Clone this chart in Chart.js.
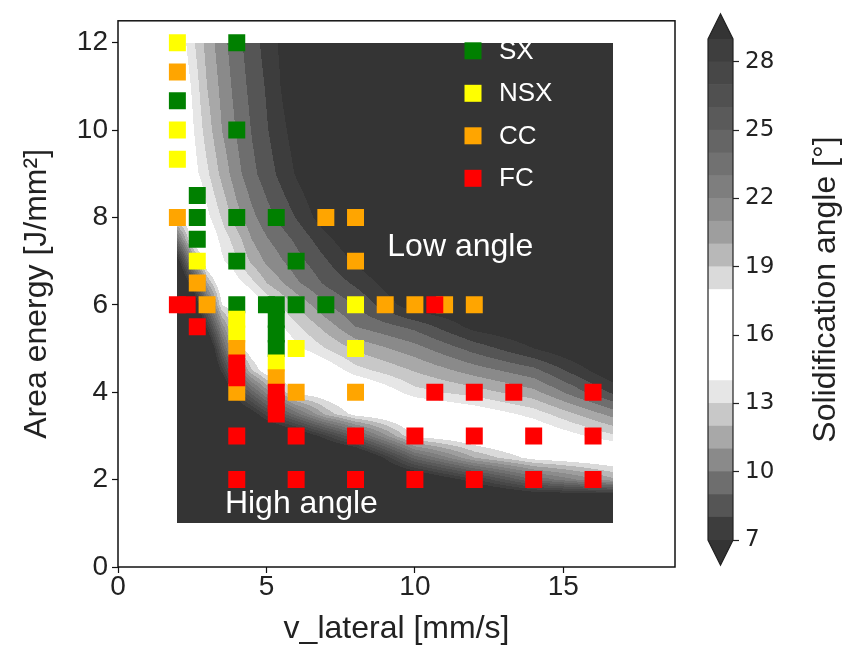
<!DOCTYPE html>
<html>
<head>
<meta charset="utf-8">
<script src="https://cdn.jsdelivr.net/npm/chart.js@4.4.1/dist/chart.umd.min.js"></script>
<style>
  html, body { margin: 0; padding: 0; background: #fff; }
  #wrap { position: relative; width: 842px; height: 645px; }
  #mainChart { position: absolute; left: 0; top: 0; }
  #cbarChart { position: absolute; left: 680px; top: 0; }
</style>
</head>
<body>
<div id="wrap">
  <canvas id="mainChart" width="842" height="645"></canvas>
  <canvas id="cbarChart" width="162" height="645"></canvas>
</div>
<script>
// simulated solidification angle [deg] on a v_lateral x area energy grid
const gridV = [2, 2.5, 3, 3.5, 4, 4.5, 5, 6, 7, 8, 10, 12, 14, 16.67];
const gridE = [1, 1.5, 2, 2.5, 3, 3.5, 4, 4.5, 5, 5.5, 6, 6.5, 7, 7.5, 8, 9, 10, 11, 12];
const angleGrid = [
  [34, 34, 34, 34, 34, 34, 34, 34, 34, 34, 34, 34, 34, 34],
  [34, 34, 34, 34, 34, 34, 34, 34, 34, 34, 34, 34, 33, 34],
  [34, 34, 34, 34, 34, 34, 34, 34, 34, 34, 32, 28.2, 24, 20.3],
  [34, 34, 34, 34, 34, 34, 34, 34, 34, 33, 24.6, 20, 17.5, 16.5],
  [34, 34, 34, 34, 34, 33, 33, 31.4, 28.2, 24.8, 17.7, 16.5, 15.5, 13.2],
  [34, 34, 34, 34, 32, 30.1, 27.6, 23.5, 19.7, 17.5, 16, 15, 13.6, 10.6],
  [34, 34, 34, 33, 27.6, 24.6, 21.6, 17.5, 17, 16, 13.4, 12.5, 11.3, 7.8],
  [34, 34, 34, 28.6, 23, 19.1, 17, 16.5, 15, 13.4, 11.9, 10.5, 9.3, 6],
  [34, 34, 33, 25.1, 18.5, 17, 16, 14.3, 13, 11.8, 10.4, 8.6, 7, 5],
  [34, 34, 28.6, 21.6, 17.5, 16.5, 15, 13.25, 11.6, 10, 8.7, 6.6, 5.8, 4.5],
  [34, 33, 24.3, 18, 17, 15.5, 14, 11.9, 10.1, 8.9, 6.2, 5.8, 5, 4.5],
  [34, 27.8, 20.1, 16.5, 14.5, 13.3, 12, 10.2, 8.8, 7.8, 5.5, 5.2, 4.5, 4.5],
  [30.4, 21.7, 16.5, 14.2, 13.05, 11.8, 10.8, 9.4, 8.1, 6.8, 5, 4.5, 4.5, 4.5],
  [23.5, 17.2, 15.3, 13.6, 12.5, 11, 10.1, 8.8, 7.3, 6, 4.8, 4.5, 4.5, 4.5],
  [17.5, 16.5, 14.3, 12.9, 11.4, 10.3, 9.4, 7.95, 6.3, 5.3, 4.5, 4.5, 4.5, 4.5],
  [16.5, 14.6, 13.2, 11.7, 10.35, 9.3, 8.5, 6.9, 5.5, 4.8, 4.5, 4.5, 4.5, 4.5],
  [16, 14.2, 12.5, 11, 9.9, 8.95, 8.1, 6.5, 5.2, 4.5, 4.5, 4.5, 4.5, 4.5],
  [15.5, 13.85, 12, 10.7, 9.6, 8.7, 7.9, 6, 5, 4.5, 4.5, 4.5, 4.5, 4.5],
  [15, 13.3, 11.6, 10.4, 9.3, 8.5, 7.6, 6, 5, 4.5, 4.5, 4.5, 4.5, 4.5]
];

// contour levels and their fill colours
const levels = [7, 8, 9, 10, 11, 12, 13, 14, 15, 16, 17, 18, 19, 20, 21, 22, 23, 24, 25, 26, 27, 28, 29];
const bandColors = [
  '#3d3d3d', '#555555', '#6e6e6e', '#8a8a8a', '#a8a8a8', '#c8c8c8', '#e6e6e6',
  '#ffffff', '#ffffff', '#ffffff', '#ffffff',
  '#dadada', '#b8b8b8', '#9e9e9e', '#8c8c8c', '#7e7e7e', '#717171', '#656565',
  '#5a5a5a', '#505050', '#474747', '#3e3e3e'
];
const underColor = '#343434';
const overColor = '#343434';

// experiments: [v_lateral, area energy]
const sxPoints = [[2, 10.67], [2.67, 8.5], [2.67, 8], [2.67, 7.5], [4, 12], [4, 10], [4, 8], [4, 7], [4, 6],
  [5.33, 8], [5, 6], [5.33, 6], [5.33, 5.67], [5.33, 5.33], [5.33, 5], [6, 7], [6, 6], [7, 6]];
const nsxPoints = [[2, 12], [2, 10], [2, 9.33], [2.67, 7], [4, 5.67], [4, 5.33], [5.33, 4.67], [6, 5], [8, 6], [8, 5]];
const ccPoints = [[2, 11.33], [2, 8], [2.67, 6.5], [3, 6], [4, 5], [4, 4], [5.33, 4.33], [6, 4], [7, 8], [8, 8],
  [8, 7], [8, 4], [9, 6], [10, 6], [11, 6], [12, 6]];
const fcPoints = [[2, 6], [2.33, 6], [2.67, 5.5], [4, 4.67], [4, 4.33], [4, 3], [4, 2], [5.33, 4], [5.33, 3.75],
  [5.33, 3.5], [6, 3], [6, 2], [8, 3], [8, 2], [10, 3], [10, 2], [10.67, 6], [10.67, 4], [12, 4], [12, 3], [12, 2],
  [13.33, 4], [14, 3], [14, 2], [16, 4], [16, 3], [16, 2]];

const xTicks = [0, 5, 10, 15];
const yTicks = [0, 2, 4, 6, 8, 10, 12];
const cbarTicks = [7, 10, 13, 16, 19, 22, 25, 28];

Chart.defaults.font.family = '"Liberation Sans", Arial, sans-serif';
Chart.defaults.color = '#222';

function hexToRgb(h) {
  const n = parseInt(h.slice(1), 16);
  return [(n >> 16) & 255, (n >> 8) & 255, n & 255];
}
const bandRgb = bandColors.map(hexToRgb);
const underRgb = hexToRgb(underColor);
const overRgb = hexToRgb(overColor);

function findCell(arr, val) {
  let i = 0;
  while (i < arr.length - 2 && val > arr[i + 1]) i++;
  return i;
}

function angleAt(v, e) {
  const i = findCell(gridV, v);
  const j = findCell(gridE, e);
  const tx = Math.min(1, Math.max(0, (v - gridV[i]) / (gridV[i + 1] - gridV[i])));
  const ty = Math.min(1, Math.max(0, (e - gridE[j]) / (gridE[j + 1] - gridE[j])));
  const a = angleGrid[j][i], b = angleGrid[j][i + 1];
  const c = angleGrid[j + 1][i], d = angleGrid[j + 1][i + 1];
  return a * (1 - tx) * (1 - ty) + b * tx * (1 - ty) + c * (1 - tx) * ty + d * tx * ty;
}

function colorFor(val) {
  if (val < levels[0]) return underRgb;
  if (val >= levels[levels.length - 1]) return overRgb;
  let k = 0;
  while (val >= levels[k + 1]) k++;
  return bandRgb[k];
}

// filled contours, rasterised through the chart scales
const contourFill = {
  id: 'contourFill',
  beforeDatasetsDraw(chart) {
    const {ctx, scales: {x, y}} = chart;
    const x0 = Math.round(x.getPixelForValue(gridV[0]));
    const x1 = Math.round(x.getPixelForValue(gridV[gridV.length - 1]));
    const y0 = Math.round(y.getPixelForValue(gridE[gridE.length - 1]));
    const y1 = Math.round(y.getPixelForValue(gridE[0]));
    const w = x1 - x0, h = y1 - y0;
    const off = document.createElement('canvas');
    off.width = w; off.height = h;
    const octx = off.getContext('2d');
    const img = octx.createImageData(w, h);
    for (let j = 0; j < h; j++) {
      const e = y.getValueForPixel(y0 + j + 0.5);
      for (let i = 0; i < w; i++) {
        const v = x.getValueForPixel(x0 + i + 0.5);
        const c = colorFor(angleAt(v, e));
        const p = (j * w + i) * 4;
        img.data[p] = c[0]; img.data[p + 1] = c[1]; img.data[p + 2] = c[2]; img.data[p + 3] = 255;
      }
    }
    octx.putImageData(img, 0, 0);
    ctx.drawImage(off, x0, y0);
  }
};

// frame, region labels and legend on top of the markers
const overlay = {
  id: 'overlay',
  afterDatasetsDraw(chart) {
    const {ctx, chartArea: ca, scales: {x, y}} = chart;
    ctx.save();
    ctx.fillStyle = '#fff';
    ctx.font = '32px "Liberation Sans"';
    ctx.textBaseline = 'middle';
    ctx.textAlign = 'left';
    ctx.fillText('Low angle', x.getPixelForValue(9.07), y.getPixelForValue(7.32));
    ctx.fillText('High angle', x.getPixelForValue(3.6), y.getPixelForValue(1.44));

    const lx = ca.left + 355, ly = ca.top + 30, step = 42.5;
    ctx.font = '26px "Liberation Sans"';
    chart.data.datasets.forEach((ds, i) => {
      const cy = ly + i * step;
      ctx.fillStyle = ds.backgroundColor;
      ctx.fillRect(lx - 8.5, cy - 8.5, 17, 17);
      ctx.fillStyle = '#fff';
      ctx.fillText(ds.label, lx + 26, cy + 1);
    });

    ctx.strokeStyle = '#111';
    ctx.lineWidth = 1.5;
    ctx.strokeRect(ca.left, ca.top, ca.right - ca.left, ca.bottom - ca.top);
    ctx.restore();
  }
};

function series(label, pts, color, order) {
  return {
    label,
    data: pts.map(p => ({x: p[0], y: p[1]})),
    backgroundColor: color,
    borderWidth: 0,
    pointStyle: 'rect',
    pointRadius: 12,
    pointHoverRadius: 12,
    order
  };
}

new Chart(document.getElementById('mainChart'), {
  type: 'scatter',
  data: {
    datasets: [
      series('SX', sxPoints, '#008000', 4),
      series('NSX', nsxPoints, '#ffff00', 3),
      series('CC', ccPoints, '#ffa500', 2),
      series('FC', fcPoints, '#ff0000', 1)
    ]
  },
  options: {
    responsive: false,
    animation: false,
    events: [],
    layout: { padding: { top: 15, right: 167, left: 0, bottom: 0 } },
    plugins: { legend: { display: false }, tooltip: { enabled: false } },
    scales: {
      x: {
        type: 'linear', min: 0, max: 18.76,
        afterBuildTicks: s => { s.ticks = xTicks.map(value => ({value})); },
        afterFit: s => { s.height = 78; },
        grid: { display: true, drawOnChartArea: false, tickLength: 6, tickColor: '#111', tickWidth: 1.2 },
        border: { display: false },
        ticks: { font: { size: 28 }, color: '#222', padding: -3, maxRotation: 0 },
        title: { display: true, text: 'v_lateral [mm/s]', font: { size: 32, lineHeight: 1 }, color: '#222', padding: { top: 0, bottom: 0 } }
      },
      y: {
        type: 'linear', min: 0, max: 12.5,
        afterBuildTicks: s => { s.ticks = yTicks.map(value => ({value})); },
        afterFit: s => { s.width = 118; },
        grid: { display: true, drawOnChartArea: false, tickLength: 6, tickColor: '#111', tickWidth: 1.2 },
        border: { display: false },
        ticks: { font: { size: 28 }, color: '#222', padding: 4 },
        title: { display: true, text: 'Area energy [J/mm²]', font: { size: 32, lineHeight: 1 }, color: '#222', padding: { top: 21, bottom: 0 } }
      }
    }
  },
  plugins: [contourFill, overlay]
});

// colour bar with extension triangles and rotated label
const cbarFrame = {
  id: 'cbarFrame',
  afterDatasetsDraw(chart) {
    const {ctx, chartArea: {left, right}, scales: {y}} = chart;
    const top = y.getPixelForValue(levels[levels.length - 1]);
    const bot = y.getPixelForValue(levels[0]);
    const ext = 0.05 * (bot - top);
    const mid = (left + right) / 2;
    ctx.save();
    ctx.fillStyle = overColor;
    ctx.beginPath(); ctx.moveTo(left, top); ctx.lineTo(mid, top - ext); ctx.lineTo(right, top); ctx.closePath(); ctx.fill();
    ctx.fillStyle = underColor;
    ctx.beginPath(); ctx.moveTo(left, bot); ctx.lineTo(mid, bot + ext); ctx.lineTo(right, bot); ctx.closePath(); ctx.fill();
    ctx.beginPath();
    ctx.moveTo(left, top); ctx.lineTo(mid, top - ext); ctx.lineTo(right, top);
    ctx.lineTo(right, bot); ctx.lineTo(mid, bot + ext); ctx.lineTo(left, bot);
    ctx.closePath();
    ctx.strokeStyle = '#222';
    ctx.lineWidth = 1.2;
    ctx.stroke();

    ctx.translate(right + 93, (top + bot) / 2);
    ctx.rotate(-Math.PI / 2);
    ctx.fillStyle = '#222';
    ctx.font = '32px "Liberation Sans"';
    ctx.textAlign = 'center';
    ctx.textBaseline = 'middle';
    ctx.fillText('Solidification angle [°]', 0, 0);
    ctx.restore();
  }
};

new Chart(document.getElementById('cbarChart'), {
  type: 'bar',
  data: {
    labels: [''],
    datasets: bandColors.map((c, i) => ({
      data: [[levels[i], levels[i + 1]]],
      backgroundColor: c,
      borderWidth: 0,
      barPercentage: 1,
      categoryPercentage: 1,
      grouped: false
    }))
  },
  options: {
    responsive: false,
    animation: false,
    events: [],
    layout: { padding: { left: 28, top: 39, bottom: 105, right: 0 } },
    plugins: { legend: { display: false }, tooltip: { enabled: false } },
    scales: {
      x: { display: false },
      y: {
        position: 'right', min: 7, max: 29,
        afterBuildTicks: s => { s.ticks = cbarTicks.map(value => ({value})); },
        afterFit: s => { s.width = 109; },
        grid: { display: true, drawOnChartArea: false, tickLength: 6, tickColor: '#222', tickWidth: 1.2 },
        border: { display: false },
        ticks: { font: { family: '"DejaVu Sans"', size: 23 }, color: '#222', padding: 6 }
      }
    }
  },
  plugins: [cbarFrame]
});
</script>
</body>
</html>
